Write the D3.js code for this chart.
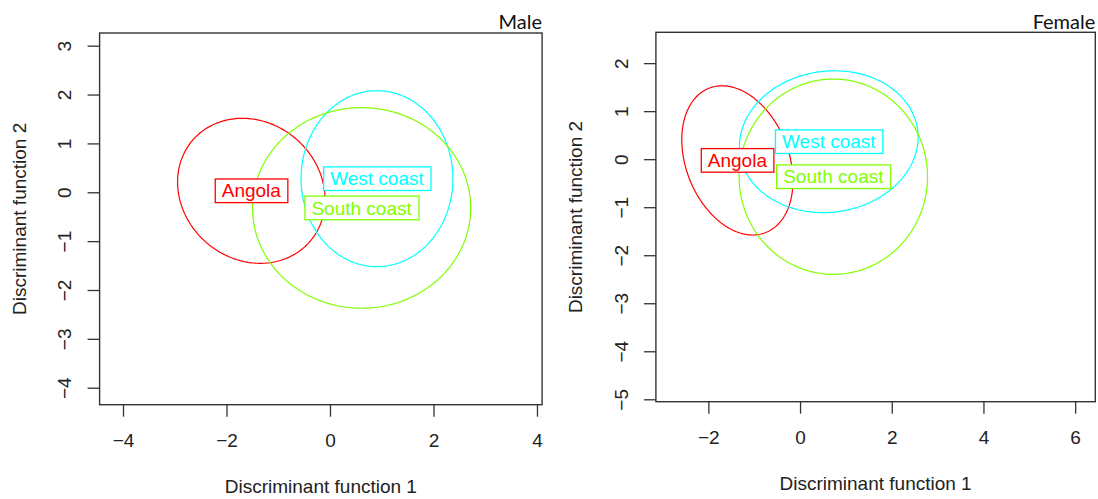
<!DOCTYPE html>
<html>
<head>
<meta charset="utf-8">
<style>
  body { margin: 0; background: #fff; }
  svg { display: block; }
  text { font-family: "Liberation Sans", Arial, sans-serif; fill: #222; }
  .ttl { font-family: Lato, "Open Sans", sans-serif; font-size: 20px; fill: #111; }
</style>
<script src="https://d3js.org/d3.v7.min.js"></script>
</head>
<body>
<svg id="chart" width="1098" height="499"></svg>
<script>
// groups and colours
var groups = ["Angola", "West coast", "South coast"];
var groupColors = ["#ff0000", "#00ffff", "#80ff00"];

// male ellipses (data units): centre, semi-axes, rotation (deg)
var maleCx = [-1.52, 0.908, 0.611];
var maleCy = [0.03, 0.278, -0.321];
var maleA = [1.545, 1.467, 2.108];
var maleB = [1.359, 1.801, 2.053];
var maleAngle = [-54.2, 0, 0];

// female ellipses
var femaleCx = [-1.367, 0.627, 0.726];
var femaleCy = [-0.025, 0.364, -0.365];
var femaleA = [1.626, 1.954, 2.055];
var femaleB = [1.113, 1.470, 2.033];
var femaleAngle = [-66.1, 6.4, 0];

// ticks
var maleXTicks = [-4, -2, 0, 2, 4];
var maleYTicks = [-4, -3, -2, -1, 0, 1, 2, 3];
var femaleXTicks = [-2, 0, 2, 4, 6];
var femaleYTicks = [-5, -4, -3, -2, -1, 0, 1, 2];

var svg = d3.select("#chart");

function panel(opt) {
  var x = d3.scaleLinear().domain(opt.xlim).range([opt.left, opt.right]);
  var y = d3.scaleLinear().domain(opt.ylim).range([opt.bottom, opt.top]);
  var g = svg.append("g");

  // bottom axis
  var ax = g.append("g")
    .attr("transform", "translate(0," + opt.bottom + ")")
    .call(d3.axisBottom(x).tickValues(opt.xticks).tickSize(12).tickSizeOuter(0));
  ax.select(".domain").remove();
  ax.selectAll("line").attr("stroke", "#333").attr("stroke-width", 1.3);
  ax.selectAll("text")
    .attr("y", 35.5).attr("dy", "0.35em")
    .style("font-size", "19px").attr("fill", "#222");

  // left axis
  var ay = g.append("g")
    .attr("transform", "translate(" + opt.left + ",0)")
    .call(d3.axisLeft(y).tickValues(opt.yticks).tickSize(12).tickSizeOuter(0));
  ay.select(".domain").remove();
  ay.selectAll("line").attr("stroke", "#333").attr("stroke-width", 1.3);
  ay.selectAll("text")
    .attr("transform", "rotate(-90)")
    .attr("x", 0).attr("y", -35).attr("dy", "0.35em")
    .attr("text-anchor", "middle")
    .style("font-size", "19px").attr("fill", "#222");

  // ellipses
  var line = d3.line()
    .x(function(p) { return x(p[0]); })
    .y(function(p) { return y(p[1]); })
    .curve(d3.curveLinearClosed);
  var ts = d3.range(0, 2 * Math.PI, Math.PI / 120);
  groups.forEach(function(name, i) {
    var th = opt.angle[i] * Math.PI / 180;
    var pts = ts.map(function(t) {
      var u = opt.a[i] * Math.cos(t), v = opt.b[i] * Math.sin(t);
      return [opt.cx[i] + u * Math.cos(th) - v * Math.sin(th),
              opt.cy[i] + u * Math.sin(th) + v * Math.cos(th)];
    });
    g.append("path")
      .attr("d", line(pts))
      .attr("fill", "none")
      .attr("stroke", groupColors[i])
      .attr("stroke-width", 1.2);
  });

  // boxed labels at centres
  groups.forEach(function(name, i) {
    var lg = g.append("g");
    var t = lg.append("text")
      .attr("x", x(opt.cx[i])).attr("y", y(opt.cy[i]))
      .attr("dy", "0.35em")
      .attr("text-anchor", "middle")
      .style("font-size", "19px")
      .style("fill", groupColors[i])
      .text(name);
    var bb = t.node().getBBox();
    lg.insert("rect", "text")
      .attr("x", bb.x - 6.5).attr("y", y(opt.cy[i]) - 11.8)
      .attr("width", bb.width + 13).attr("height", 23.6)
      .attr("fill", "#fff")
      .attr("stroke", groupColors[i])
      .attr("stroke-width", 1.3);
  });

  // box
  g.append("rect")
    .attr("x", opt.left).attr("y", opt.top)
    .attr("width", opt.right - opt.left).attr("height", opt.bottom - opt.top)
    .attr("fill", "none").attr("stroke", "#333").attr("stroke-width", 1.4);

  // axis titles
  g.append("text")
    .attr("x", (opt.left + opt.right) / 2).attr("y", opt.bottom + 88.5)
    .attr("text-anchor", "middle")
    .style("font-size", "19px")
    .text("Discriminant function 1");
  g.append("text")
    .attr("transform", "translate(" + (opt.left - 74) + "," + ((opt.top + opt.bottom) / 2) + ") rotate(-90)")
    .attr("text-anchor", "middle")
    .style("font-size", "19px")
    .text("Discriminant function 2");

  g.append("text")
    .attr("class", "ttl")
    .attr("x", opt.right).attr("y", 29)
    .attr("text-anchor", "end")
    .text(opt.title);
}

panel({
  title: "Male",
  left: 99.6, right: 542.1, top: 33, bottom: 404.7,
  xlim: [-4.452, 4.099], ylim: [-4.348, 3.26],
  xticks: maleXTicks, yticks: maleYTicks,
  cx: maleCx, cy: maleCy, a: maleA, b: maleB, angle: maleAngle
});

panel({
  title: "Female",
  left: 655.9, right: 1095.3, top: 32.3, bottom: 401.7,
  xlim: [-3.144, 6.44], ylim: [-5.05, 2.642],
  xticks: femaleXTicks, yticks: femaleYTicks,
  cx: femaleCx, cy: femaleCy, a: femaleA, b: femaleB, angle: femaleAngle
});
</script>
</body>
</html>
